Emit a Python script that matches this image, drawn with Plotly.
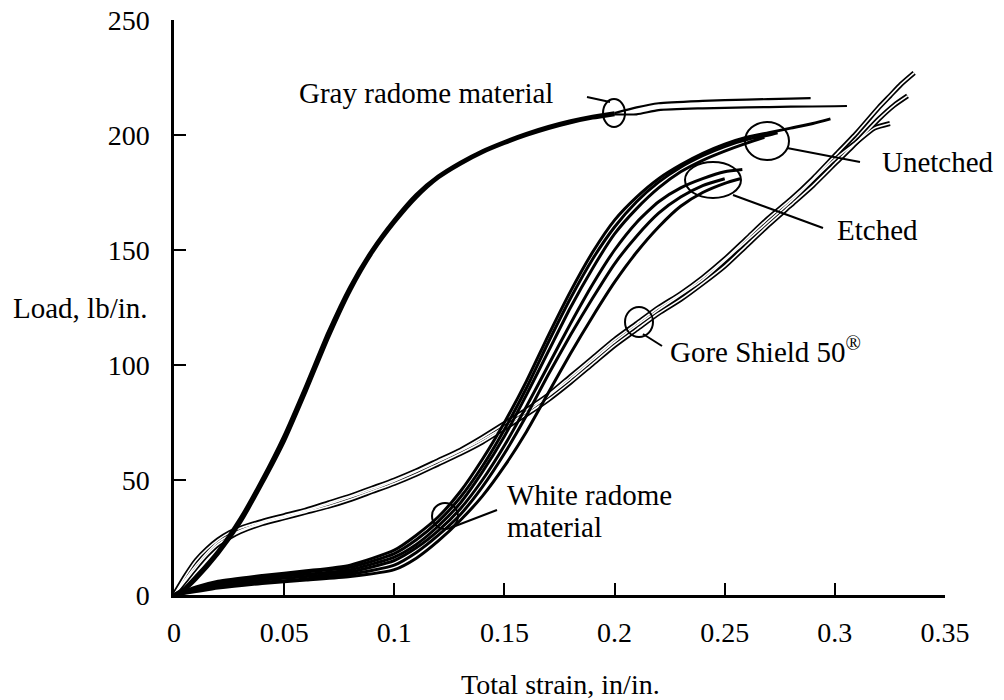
import plotly.graph_objects as go

# ---------------- data ----------------
x_ticks = [0, 0.05, 0.1, 0.15, 0.2, 0.25, 0.3, 0.35]
x_tick_labels = ["0", "0.05", "0.1", "0.15", "0.2", "0.25", "0.3", "0.35"]
y_ticks = [0, 50, 100, 150, 200, 250]
y_tick_labels = ["0", "50", "100", "150", "200", "250"]

# Gray radome material (two specimens)
gray_a_x = [0, 0.005, 0.01, 0.02, 0.03, 0.04, 0.05, 0.06, 0.07, 0.08, 0.09, 0.10, 0.11, 0.12,
            0.13, 0.14, 0.15, 0.16, 0.17, 0.18, 0.19, 0.20, 0.21, 0.22, 0.24, 0.26, 0.28, 0.289]
gray_a_y = [0, 3, 8, 19, 33, 50, 69, 91, 114, 134, 150, 163, 174, 182,
            188, 193, 197, 200.5, 203.5, 206, 208, 209.5, 212, 213.8, 214.8, 215.4, 215.8, 216]
gray_b_x = [0, 0.005, 0.01, 0.02, 0.03, 0.04, 0.05, 0.06, 0.07, 0.08, 0.09, 0.10, 0.11, 0.12,
            0.13, 0.14, 0.15, 0.16, 0.17, 0.18, 0.19, 0.20, 0.21, 0.22, 0.24, 0.26, 0.28, 0.30, 0.3055]
gray_b_y = [0, 2.5, 7, 18, 31.5, 48.5, 67, 89, 112, 132.5, 149, 162, 173, 181.5,
            187.5, 192.5, 196.5, 200, 203, 205.5, 207.5, 209, 209, 210.8, 211.6, 212, 212.3, 212.5, 212.6]

# White radome material - unetched specimens
unetched1_x = [0, 0.01, 0.02, 0.04, 0.06, 0.08, 0.10, 0.11, 0.12, 0.13, 0.14, 0.15, 0.16, 0.17,
               0.18, 0.19, 0.20, 0.21, 0.22, 0.23, 0.24, 0.25, 0.26, 0.27, 0.28, 0.29, 0.298]
unetched1_y = [0, 3.5, 6, 8.5, 10.5, 13, 19.5, 26, 34, 45, 59, 75, 93, 113,
               132, 149, 163, 173, 181, 187, 192, 196, 199, 201, 203, 205, 207]
unetched2_x = [0, 0.01, 0.02, 0.04, 0.06, 0.08, 0.10, 0.11, 0.12, 0.13, 0.14, 0.15, 0.16, 0.17,
               0.18, 0.19, 0.20, 0.21, 0.22, 0.23, 0.24, 0.25, 0.26, 0.27, 0.274]
unetched2_y = [0, 3, 5.5, 8, 10, 12, 18, 24, 32, 42.5, 56, 72, 90, 110,
               129, 146, 160, 171, 179.5, 186, 191, 195, 198, 200, 201]
unetched3_x = [0, 0.01, 0.02, 0.04, 0.06, 0.08, 0.10, 0.11, 0.12, 0.13, 0.14, 0.15, 0.16, 0.17,
               0.18, 0.19, 0.20, 0.21, 0.22, 0.23, 0.24, 0.25, 0.26, 0.268]
unetched3_y = [0, 2.5, 5, 7.5, 9, 11, 16.5, 22, 30, 40, 53.5, 69, 87, 106,
               125, 142, 157, 168, 177, 184, 189, 193, 196.5, 199]

# White radome material - etched specimens
etched1_x = [0, 0.01, 0.02, 0.04, 0.06, 0.08, 0.10, 0.11, 0.12, 0.13, 0.14, 0.15, 0.16, 0.17,
             0.18, 0.19, 0.20, 0.21, 0.22, 0.23, 0.24, 0.25, 0.258]
etched1_y = [0, 2, 4, 6.5, 8, 10, 15, 20.5, 28, 37.5, 50, 65, 82, 100,
             118, 135, 150, 162, 171, 177, 181, 184, 185]
etched2_x = [0, 0.01, 0.02, 0.04, 0.06, 0.08, 0.10, 0.11, 0.12, 0.13, 0.14, 0.15, 0.16, 0.17,
             0.18, 0.19, 0.20, 0.21, 0.22, 0.23, 0.24, 0.25]
etched2_y = [0, 2, 3.5, 5.5, 7, 9, 13, 18.5, 26, 35, 47, 61.5, 78, 96,
             113, 129, 144, 156, 166, 173, 178, 181]
etched3_x = [0, 0.01, 0.02, 0.04, 0.06, 0.08, 0.10, 0.11, 0.12, 0.13, 0.14, 0.15, 0.16, 0.17,
             0.18, 0.19, 0.20, 0.21, 0.22, 0.23, 0.24, 0.25, 0.257]
etched3_y = [0, 1.5, 3, 5, 6.5, 8, 11, 16, 23.5, 32.5, 43, 56, 71, 88,
             105, 121, 136, 149, 160, 169, 175, 179, 181]

# Gore Shield 50 specimens
gore1_x = [0, 0.005, 0.01, 0.015, 0.02, 0.025, 0.03, 0.04, 0.05, 0.06, 0.07, 0.08, 0.09, 0.10,
           0.11, 0.12, 0.13, 0.14, 0.15, 0.16, 0.17, 0.18, 0.19, 0.20, 0.21, 0.22, 0.23, 0.24,
           0.25, 0.26, 0.27, 0.28, 0.29, 0.30, 0.31, 0.32, 0.325, 0.33, 0.336]
gore1_y = [0, 8, 15, 20, 24, 27, 29, 32, 34.5, 37, 40, 43, 46.5, 50,
           54, 58.5, 63, 68.5, 74.5, 80.5, 87, 95, 103, 111, 118, 125, 131, 138,
           146, 155, 164, 172, 181, 191, 201, 212, 217, 222, 227]
gore2_x = [0, 0.005, 0.01, 0.015, 0.02, 0.025, 0.03, 0.04, 0.05, 0.06, 0.07, 0.08, 0.09, 0.10,
           0.11, 0.12, 0.13, 0.14, 0.15, 0.16, 0.17, 0.18, 0.19, 0.20, 0.21, 0.22, 0.23, 0.24,
           0.25, 0.26, 0.27, 0.28, 0.29, 0.30, 0.31, 0.32, 0.327, 0.333]
gore2_y = [0, 6, 12, 17.5, 22, 25, 27.5, 31, 33.5, 36, 38.5, 41.5, 45, 48.5,
           52.5, 57, 61.5, 66.5, 72.5, 78.5, 85, 92.5, 100.5, 108.5, 115.5, 122.5, 128.5, 135.5,
           143, 152, 161, 169.5, 178, 187.5, 197, 207, 213, 217]
gore3_x = [0, 0.01, 0.02, 0.03, 0.04, 0.06, 0.08, 0.10, 0.12, 0.14, 0.16, 0.18, 0.20, 0.22,
           0.24, 0.26, 0.28, 0.30, 0.31, 0.318, 0.325]
gore3_y = [0, 13, 23, 28, 31.5, 36.5, 42.5, 49.5, 58, 67.5, 79.5, 94, 110, 124,
           137, 154, 171, 189.5, 197, 203, 205]

# ---------------- layout constants ----------------
X_RANGE = [0, 0.35]
Y_RANGE = [0, 250]
W, H = 1004, 700
PAGE_OFF = 8                      # default body margin of the html page
PX0, PX1 = 174, 945               # plot area in screen pixels
PY0, PY1 = 595, 20
L = PX0 - PAGE_OFF
T = PY1 - PAGE_OFF
R = W - (PX1 - PAGE_OFF)
B = H - (PY0 - PAGE_OFF)
FONT = "Liberation Serif"


def dx(px):
    return X_RANGE[0] + (px - PX0) / (PX1 - PX0) * (X_RANGE[1] - X_RANGE[0])


def dy(py):
    return Y_RANGE[0] + (PY0 - py) / (PY0 - PY1) * (Y_RANGE[1] - Y_RANGE[0])


def paper_x(px):
    return (px - PX0) / (PX1 - PX0)


def paper_y(py):
    return (PY0 - py) / (PY0 - PY1)


fig = go.Figure()


def add_line(x, y, width, color="black"):
    fig.add_trace(go.Scatter(x=x, y=y, mode="lines",
                             line=dict(color=color, width=width, shape="spline", smoothing=0.6),
                             hoverinfo="skip", showlegend=False))


# Gore Shield: double-line look (black outline with white core)
gores = [(gore1_x, gore1_y), (gore2_x, gore2_y), (gore3_x, gore3_y)]
for gx, gy in gores:
    add_line(gx, gy, 5)
for gx, gy in gores:
    add_line(gx, gy, 1.6, "white")

# White radome specimens
for wx, wy in [(unetched1_x, unetched1_y), (unetched2_x, unetched2_y), (unetched3_x, unetched3_y),
               (etched1_x, etched1_y), (etched2_x, etched2_y), (etched3_x, etched3_y)]:
    add_line(wx, wy, 3)

# Gray radome specimens: thick body, thinner tail
for gx, gy in [(gray_a_x, gray_a_y), (gray_b_x, gray_b_y)]:
    k = gx.index(0.20)
    add_line(gx[:k + 1], gy[:k + 1], 3.8)
    add_line(gx[k:], gy[k:], 2.2)

# ---------------- callouts ----------------
circles_px = [  # cx, cy, rx, ry in screen pixels
    (614, 113, 11, 14),
    (767, 141, 22, 19),
    (713, 180, 28, 18),
    (639, 322, 14, 15),
    (445, 516, 13, 13),
]
leaders_px = [
    (587, 97, 610, 102),
    (787, 148, 860, 162),
    (733, 195, 823, 228),
    (643, 334, 662, 346),
    (450, 528, 497, 510),
]
labels_px = [  # text, left x, center y
    ("Gray radome material", 297, 93),
    ("Unetched", 880, 162),
    ("Etched", 835, 230),
    ("Gore Shield 50<sup>®</sup>", 668, 350),
    ("White radome", 505, 495),
    ("material", 505, 527),
]

shapes = []
for cx, cy, rx, ry in circles_px:
    shapes.append(dict(type="circle", xref="x", yref="y",
                       x0=dx(cx - rx), x1=dx(cx + rx), y0=dy(cy + ry), y1=dy(cy - ry),
                       line=dict(color="black", width=2)))
for x0, y0, x1, y1 in leaders_px:
    shapes.append(dict(type="line", xref="x", yref="y",
                       x0=dx(x0), y0=dy(y0), x1=dx(x1), y1=dy(y1),
                       line=dict(color="black", width=2)))

annotations = []
for text, lx, cy in labels_px:
    annotations.append(dict(text=text, x=dx(lx), y=dy(cy), xref="x", yref="y",
                            xanchor="left", yanchor="middle", showarrow=False,
                            font=dict(family=FONT, size=29, color="black")))
annotations.append(dict(text="Load, lb/in.", x=paper_x(150), y=paper_y(308),
                        xref="paper", yref="paper", xanchor="right", yanchor="middle",
                        showarrow=False, font=dict(family=FONT, size=29, color="black")))
annotations.append(dict(text="Total strain, in/in.", x=paper_x(560), y=paper_y(684),
                        xref="paper", yref="paper", xanchor="center", yanchor="middle",
                        showarrow=False, font=dict(family=FONT, size=28, color="black")))

fig.update_layout(
    width=W, height=H,
    margin=dict(l=L, r=R, t=T, b=B, pad=0),
    paper_bgcolor="white", plot_bgcolor="white",
    showlegend=False,
    shapes=shapes, annotations=annotations,
    font=dict(family=FONT, color="black"),
)
fig.update_xaxes(range=X_RANGE, tickvals=x_ticks, ticktext=x_tick_labels, automargin=False,
                 showgrid=False, zeroline=False, showline=True, linecolor="black", linewidth=2.5,
                 ticks="inside", ticklen=12, tickwidth=2, tickcolor="black",
                 ticklabeloverflow="allow",
                 tickfont=dict(family=FONT, size=28, color="black"), ticklabelstandoff=11)
fig.update_yaxes(range=Y_RANGE, tickvals=y_ticks, ticktext=y_tick_labels, automargin=False,
                 showgrid=False, zeroline=False, showline=True, linecolor="black", linewidth=2.5,
                 ticks="inside", ticklen=12, tickwidth=2, tickcolor="black",
                 ticklabeloverflow="allow",
                 tickfont=dict(family=FONT, size=28, color="black"), ticklabelstandoff=16)

fig.write_html("out.html")
